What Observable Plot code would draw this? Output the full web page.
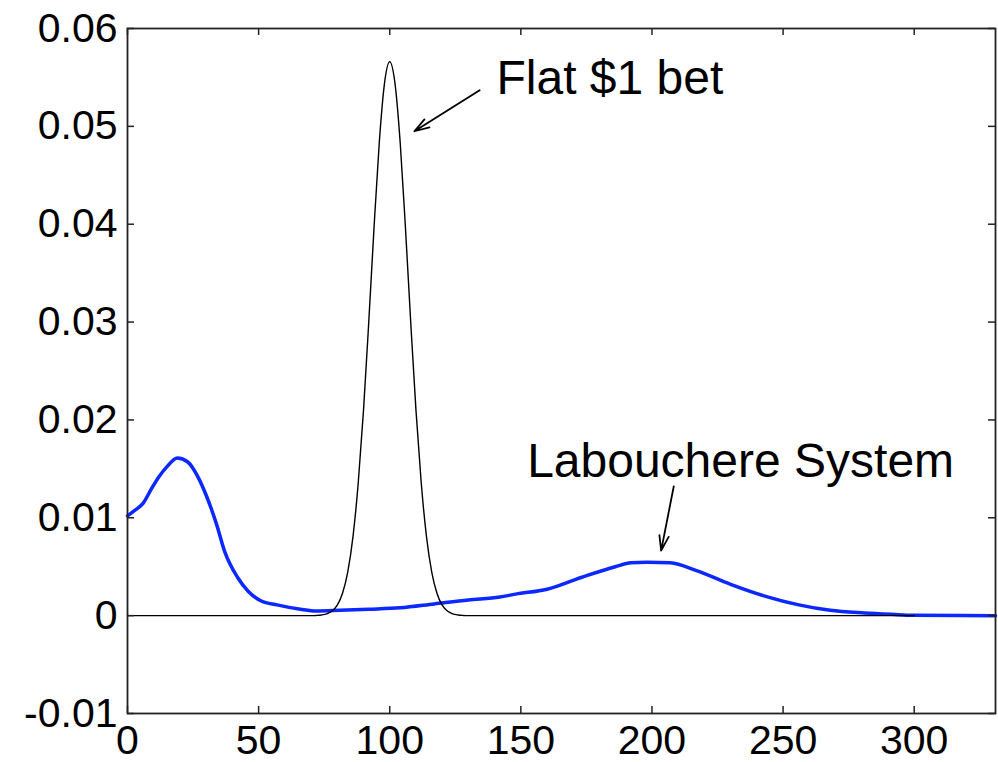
<!DOCTYPE html>
<html>
<head>
<meta charset="utf-8">
<script src="https://cdn.jsdelivr.net/npm/d3@7"></script>
<script src="https://cdn.jsdelivr.net/npm/@observablehq/plot@0.6"></script>
<style>
  html, body { margin: 0; padding: 0; background: #fff; }
  #chart { width: 998px; height: 762px; }
</style>
</head>
<body>
<div id="chart"></div>
<script>
// Flat $1 bet distribution (black)
const flatX = [0, 70, 72, 74, 76, 78, 80, 82, 84, 86, 88, 90, 92, 94, 96, 98, 100,
  102, 104, 106, 108, 110, 112, 114, 116, 118, 120, 122, 124, 126, 128, 130, 300];
const flatY = [0, 0, 0.00002, 0.00007, 0.00019, 0.00047, 0.00107, 0.00228, 0.00447, 0.0081,
  0.0136, 0.0210, 0.0300, 0.0396, 0.0483, 0.0544, 0.0566,
  0.0544, 0.0483, 0.0396, 0.0300, 0.0210, 0.0136, 0.0081, 0.00447, 0.00228, 0.00107,
  0.00047, 0.00019, 0.00007, 0.00002, 0, 0];

// Labouchere System distribution (blue)
const labX = [0, 3, 6, 9, 12, 15, 19, 23, 27, 30, 34, 37, 42, 46, 51, 57, 66, 72, 81, 92,
  104, 117, 130, 142, 148, 160, 173, 186, 192, 198, 207, 217, 230, 243, 256, 268, 281,
  294, 300, 331];
const labY = [0.0102, 0.0108, 0.0115, 0.0129, 0.0142, 0.0152, 0.0161, 0.0157, 0.0141,
  0.0123, 0.0093, 0.0066, 0.0039, 0.0025, 0.0015, 0.0011, 0.00065, 0.00047, 0.00054,
  0.00065, 0.0008, 0.0012, 0.0016, 0.0019, 0.0022, 0.0027, 0.0039, 0.0050, 0.0054,
  0.00545, 0.0054, 0.0046, 0.0032, 0.0020, 0.0011, 0.00054, 0.00027, 0.0001, 0.00003, 0];

// Tick values
const xTicks = [0, 50, 100, 150, 200, 250, 300];
const yTicks = [-0.01, 0, 0.01, 0.02, 0.03, 0.04, 0.05, 0.06];

// Annotations
const labelText = ["Flat $1 bet", "Labouchere System"];
const labelX = [140.7, 152.4];
const labelY = [0.0533, 0.01414];
const arrowX1 = [134.3, 208.3];
const arrowY1 = [0.0537, 0.0132];
const arrowX2 = [109.4, 203.5];
const arrowY2 = [0.0495, 0.00665];

const flat = flatX.map((x, i) => ({x, y: flatY[i]}));
const lab = labX.map((x, i) => ({x, y: labY[i]}));
const labels = labelText.map((t, i) => ({t, x: labelX[i], y: labelY[i]}));
const arrows = arrowX1.map((x1, i) => ({x1, y1: arrowY1[i], x2: arrowX2[i], y2: arrowY2[i]}));

const W = 998, H = 762, mL = 127, mR = 3, mT = 28, mB = 49;
const innerW = W - mL - mR, innerH = H - mT - mB;
const tick = 7;
const fmtY = d => d === 0 ? "0" : d.toFixed(2);

const chart = Plot.plot({
  width: W, height: H,
  marginLeft: mL, marginRight: mR, marginTop: mT, marginBottom: mB,
  x: {domain: [0, 331]},
  y: {domain: [-0.01, 0.06]},
  style: {fontFamily: "'Liberation Sans', Arial, sans-serif", background: "#fff", color: "#000"},
  marks: [
    Plot.line(lab, {x: "x", y: "y", stroke: "#0a28ff", strokeWidth: 3.5, curve: "monotone-x"}),
    Plot.line(flat, {x: "x", y: "y", stroke: "#000", strokeWidth: 1.4, curve: "monotone-x"}),
    Plot.arrow(arrows, {x1: "x1", y1: "y1", x2: "x2", y2: "y2", stroke: "#000", strokeWidth: 1.8,
      headLength: 13, headAngle: 35, bend: 0}),
    Plot.text(labels, {x: "x", y: "y", text: "t", textAnchor: "start", lineAnchor: "bottom",
      fontSize: 48, fill: "#000"}),
    // inward ticks on all four sides
    Plot.tickX(xTicks, {x: d => d, insetTop: innerH - tick, stroke: "#222", strokeWidth: 1.5}),
    Plot.tickX(xTicks, {x: d => d, insetBottom: innerH - tick, stroke: "#222", strokeWidth: 1.5}),
    Plot.tickY(yTicks, {y: d => d, insetRight: innerW - tick, stroke: "#222", strokeWidth: 1.5}),
    Plot.tickY(yTicks, {y: d => d, insetLeft: innerW - tick, stroke: "#222", strokeWidth: 1.5}),
    Plot.axisX(xTicks, {anchor: "bottom", tickSize: 0, tickPadding: 11, fontSize: 41, fill: "#000",
      tickFormat: d => String(d), label: null}),
    Plot.axisY(yTicks, {anchor: "left", tickSize: 0, tickPadding: 10, fontSize: 41, fill: "#000",
      tickFormat: fmtY, label: null}),
    Plot.frame({stroke: "#222", strokeWidth: 1.8})
  ]
});
document.getElementById("chart").appendChild(chart);
</script>
</body>
</html>
